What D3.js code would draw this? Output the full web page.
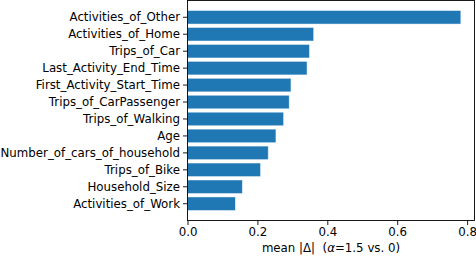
<!DOCTYPE html>
<html>
<head>
<meta charset="utf-8">
<script src="https://cdn.jsdelivr.net/npm/d3@7"></script>
<style>
  body { margin: 0; background: #fff; }
  svg text { font-family: "DejaVu Sans", sans-serif; }
</style>
</head>
<body>
<div id="chart"></div>
<script>
let features = [
  'Activities_of_Other', 'Activities_of_Home', 'Trips_of_Car', 'Last_Activity_End_Time',
  'First_Activity_Start_Time', 'Trips_of_CarPassenger', 'Trips_of_Walking', 'Age',
  'Number_of_cars_of_household', 'Trips_of_Bike', 'Household_Size', 'Activities_of_Work'
]
let meanDelta = [0.782, 0.361, 0.349, 0.342, 0.296, 0.291, 0.275, 0.253, 0.231, 0.209, 0.157, 0.137]
let xTicks = [0, 0.2, 0.4, 0.6, 0.8]

let width = 476, height = 256
let margin = { top: 0.5, right: 1.5, bottom: 35.5, left: 187.5 }
let fontSize = 11.8

let svg = d3.select('#chart')
  .append('svg')
  .attr('width', width)
  .attr('height', height)

let x = d3.scaleLinear()
  .domain([0, d3.max(meanDelta) * 1.05])
  .range([margin.left, width - margin.right])

let y = d3.scaleBand()
  .domain(features)
  .range([margin.top, height - margin.bottom])
  .paddingInner(0.2)
  .paddingOuter(0.59)

svg.append('g')
  .selectAll('rect')
  .data(features)
  .enter()
  .append('rect')
  .attr('x', x(0))
  .attr('y', function(d) { return y(d) })
  .attr('width', function(d, i) { return x(meanDelta[i]) - x(0) })
  .attr('height', y.bandwidth())
  .attr('fill', '#1f77b4')
  .attr('stroke', '#ffffff')
  .attr('stroke-opacity', 0.6)
  .attr('stroke-width', 0.8)

let xAxis = svg.append('g')
  .attr('transform', 'translate(0,' + (height - margin.bottom) + ')')
  .call(d3.axisBottom(x).tickValues(xTicks).tickFormat(d3.format('.1f')).tickSize(4.5).tickPadding(3))

let yAxis = svg.append('g')
  .attr('transform', 'translate(' + margin.left + ',0)')
  .call(d3.axisLeft(y).tickSize(4.5).tickPadding(3))

for (let ax of [xAxis, yAxis]) {
  ax.select('.domain').remove()
  ax.selectAll('text').attr('font-size', fontSize).attr('fill', '#000')
  ax.selectAll('line').attr('stroke', '#000').attr('stroke-width', 0.9)
}

// frame
svg.append('rect')
  .attr('x', margin.left)
  .attr('y', margin.top)
  .attr('width', width - margin.right - margin.left)
  .attr('height', height - margin.bottom - margin.top)
  .attr('fill', 'none')
  .attr('stroke', '#000')
  .attr('stroke-width', 0.9)

let label = svg.append('text')
  .attr('x', (x.range()[0] + x.range()[1]) / 2)
  .attr('y', 252)
  .attr('text-anchor', 'middle')
  .attr('font-size', fontSize)
  .attr('fill', '#000')
  .attr('xml:space', 'preserve')
label.append('tspan').text('mean |Δ|  (')
label.append('tspan').attr('font-style', 'italic').text('α')
label.append('tspan').text('=1.5 vs. 0)')
</script>
</body>
</html>
